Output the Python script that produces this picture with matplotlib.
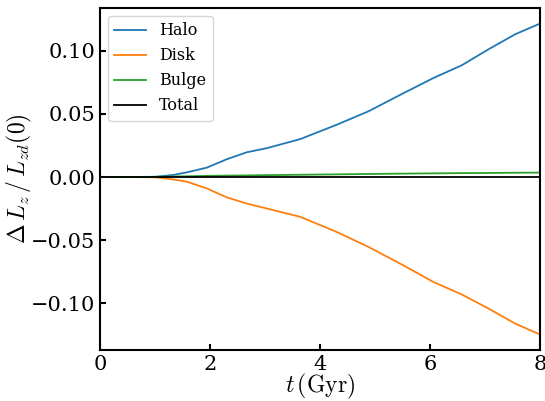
import numpy as np
import matplotlib
matplotlib.use('Agg')
import matplotlib.pyplot as plt

plt.rcParams['font.family'] = 'DejaVu Serif'
plt.rcParams['mathtext.fontset'] = 'cm'

# time (Gyr) and angular momentum change of each component
t = [0, 0.5, 1.0, 1.33, 1.58, 1.94, 2.30, 2.67, 3.03, 3.64, 4.30, 4.88,
     5.52, 6.06, 6.58, 7.06, 7.55, 8.0]
halo = [0, 0, 0.0002, 0.0016, 0.0037, 0.0074, 0.014, 0.0196, 0.0228, 0.030,
        0.0413, 0.052, 0.0664, 0.0783, 0.0885, 0.101, 0.113, 0.1214]
disk = [0, 0, -0.0002, -0.0019, -0.0037, -0.009, -0.016, -0.021, -0.0249,
        -0.0315, -0.0434, -0.0553, -0.070, -0.083, -0.093, -0.104, -0.116,
        -0.1246]
bulge = [0, 0, 0.0001, 0.0004, 0.0006, 0.0009, 0.0011, 0.0013, 0.0015,
         0.0018, 0.0021, 0.0024, 0.0027, 0.0029, 0.0031, 0.0032, 0.0034,
         0.0035]
total = [0] * len(t)
xticks = [0, 2, 4, 6, 8]

fig = plt.figure(figsize=(5.45, 4.01), dpi=100)
ax = fig.add_axes([0.1835, 0.127, 0.8075, 0.853])

ax.plot(t, halo, color='C0', lw=1.3, label='Halo')
ax.plot(t, disk, color='C1', lw=1.3, label='Disk')
ax.plot(t, bulge, color='C2', lw=1.3, label='Bulge')
ax.plot(t, total, color='k', lw=1.3, label='Total')

ax.set_xlim(0, 8)
ax.set_xticks(xticks)
ax.set_xlabel(r'$t\,(\mathrm{Gyr})$', fontsize=17)
ax.set_ylabel(r'$\Delta\,L_z\,/\,L_{zd}(0)$', fontsize=17)
ax.xaxis.set_label_coords(0.5, -0.063)
ax.yaxis.set_label_coords(-0.15, 0.5)
ax.tick_params(direction='in', labelsize=15, width=1.5, length=4)
for s in ax.spines.values():
    s.set_linewidth(1.5)
ax.legend(loc='upper left', fontsize=11.5)

fig.savefig('out.png', dpi=100)
